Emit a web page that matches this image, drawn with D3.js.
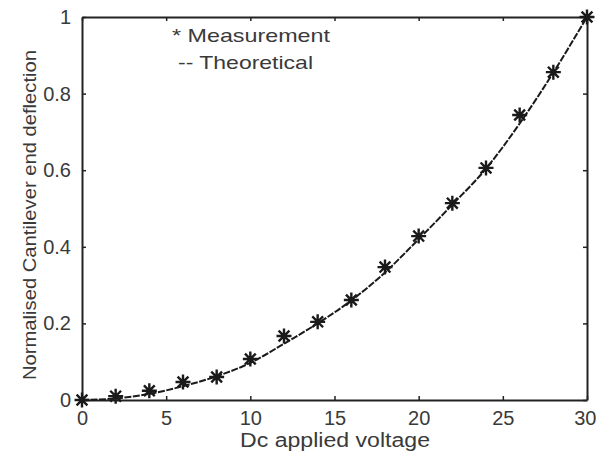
<!DOCTYPE html>
<html>
<head>
<meta charset="utf-8">
<script src="https://cdn.jsdelivr.net/npm/d3@7"></script>
<style>
  html, body { margin: 0; padding: 0; background: #fff; }
  svg { display: block; }
  text { font-family: "Liberation Sans", Arial, sans-serif; fill: #3a3a3a; }
</style>
</head>
<body>
<svg id="chart" width="596" height="455"></svg>
<script>
// Measured deflection at each applied DC voltage
const voltage = [0, 2, 4, 6, 8, 10, 12, 14, 16, 18, 20, 22, 24, 26, 28, 30];
const measured = [0, 0.010, 0.024, 0.047, 0.060, 0.107, 0.167, 0.204, 0.261, 0.347, 0.428, 0.514, 0.606, 0.744, 0.856, 1.0];
// Theoretical deflection curve
const theoryVoltage = [0, 2, 4, 6, 8, 10, 12, 14, 16, 18, 20, 22, 24, 26, 28, 30];
const theory = [0, 0.004, 0.016, 0.036, 0.062, 0.097, 0.147, 0.200, 0.260, 0.333, 0.420, 0.510, 0.604, 0.722, 0.855, 1.0];
const xTicks = [0, 5, 10, 15, 20, 25, 30];
const yTicks = [0, 0.2, 0.4, 0.6, 0.8, 1];
const yTickLabels = ["0", "0.2", "0.4", "0.6", "0.8", "1"];

const svg = d3.select("#chart");
const plotLeft = 82, plotRight = 587, plotTop = 17, plotBottom = 400;

const x = d3.scaleLinear().domain([0, 30]).range([plotLeft, plotRight]);
const y = d3.scaleLinear().domain([0, 1]).range([plotBottom, plotTop]);

const axisColor = "#222";

// Axes with inward ticks on all four sides
const gx = svg.append("g").attr("transform", `translate(0,${plotBottom})`)
  .call(d3.axisBottom(x).tickValues(xTicks).tickSizeInner(-4).tickSizeOuter(0).tickPadding(10));
const gxTop = svg.append("g").attr("transform", `translate(0,${plotTop})`)
  .call(d3.axisTop(x).tickValues(xTicks).tickSizeInner(-4).tickSizeOuter(0).tickFormat(""));
const gy = svg.append("g").attr("transform", `translate(${plotLeft},0)`)
  .call(d3.axisLeft(y).tickValues(yTicks).tickSizeInner(-4).tickSizeOuter(0).tickPadding(11)
    .tickFormat((d, i) => yTickLabels[i]));
const gyRight = svg.append("g").attr("transform", `translate(${plotRight},0)`)
  .call(d3.axisRight(y).tickValues(yTicks).tickSizeInner(-4).tickSizeOuter(0).tickFormat(""));

[gx, gxTop, gy, gyRight].forEach(g => {
  g.select(".domain").attr("stroke", axisColor).attr("stroke-width", 2);
  g.selectAll(".tick line").attr("stroke", axisColor).attr("stroke-width", 1.5);
  g.selectAll(".tick text").attr("font-size", 20).attr("fill", "#3a3a3a")
    .style("font-family", "'Liberation Sans', Arial, sans-serif");
});
gx.selectAll(".tick text").attr("dy", "0.75em");
// keep the last x label inside the page
gx.selectAll(".tick text").filter(d => d === 30).attr("text-anchor", "end").attr("x", 596 - plotRight);

// Theoretical curve
const line = d3.line()
  .x((d, i) => x(theoryVoltage[i]))
  .y(d => y(d))
  .curve(d3.curveMonotoneX);
svg.append("path")
  .datum(theory)
  .attr("d", line)
  .attr("fill", "none")
  .attr("stroke", "#1a1a1a")
  .attr("stroke-width", 2)
  .attr("stroke-dasharray", "7,1.5");

// Measurement markers: eight-ray asterisks
const r = 7.5, rd = r * 0.72;
const starPath = `M${-r},0L${r},0M0,${-r}L0,${r}M${-rd},${-rd}L${rd},${rd}M${-rd},${rd}L${rd},${-rd}`;
svg.append("g").selectAll("path")
  .data(measured)
  .join("path")
  .attr("transform", (d, i) => `translate(${x(voltage[i])},${y(d)})`)
  .attr("d", starPath)
  .attr("stroke", "#1a1a1a")
  .attr("stroke-width", 2.4)
  .attr("fill", "none");

// Legend
svg.append("text").attr("x", 172).attr("y", 42).attr("font-size", 19)
  .attr("textLength", 158).attr("lengthAdjust", "spacingAndGlyphs")
  .text("* Measurement");
svg.append("text").attr("x", 178).attr("y", 69).attr("font-size", 19)
  .attr("textLength", 135).attr("lengthAdjust", "spacingAndGlyphs")
  .text("-- Theoretical");

// Axis titles
svg.append("text")
  .attr("x", 335).attr("y", 447)
  .attr("text-anchor", "middle")
  .attr("font-size", 20)
  .attr("textLength", 190).attr("lengthAdjust", "spacingAndGlyphs")
  .text("Dc applied voltage");

svg.append("text")
  .attr("transform", "translate(36,215) rotate(-90)")
  .attr("text-anchor", "middle")
  .attr("font-size", 19)
  .attr("textLength", 330).attr("lengthAdjust", "spacingAndGlyphs")
  .text("Normalised Cantilever end deflection");
</script>
</body>
</html>
